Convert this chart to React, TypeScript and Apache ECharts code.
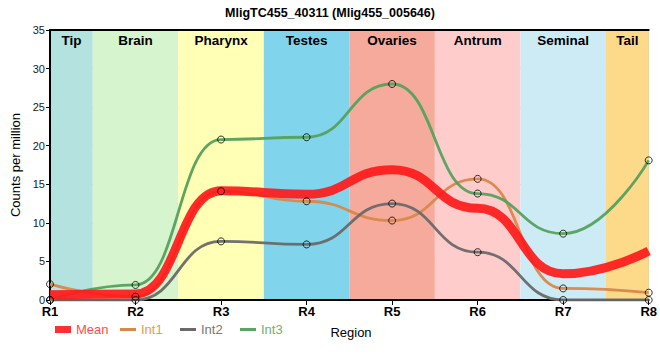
import React, { useEffect, useRef } from "react";
import * as echarts from "echarts";

const regions = ["R1", "R2", "R3", "R4", "R5", "R6", "R7", "R8"];
const meanVals = [0.67, 0.79, 14.17, 13.7, 16.9, 11.9, 3.4, 6.35];
const int1Vals = [2.05, 0.43, 14.1, 12.8, 10.3, 15.7, 1.5, 0.95];
const int2Vals = [0.0, 0.0, 7.6, 7.2, 12.5, 6.2, 0.0, 0.0];
const int3Vals = [0.0, 1.95, 20.8, 21.1, 28.0, 13.8, 8.6, 18.1];
const bandNames = ["Tip", "Brain", "Pharynx", "Testes", "Ovaries", "Antrum", "Seminal", "Tail"];
const bandStarts = [0, 0.5, 1.5, 2.5, 3.5, 4.5, 5.5, 6.5];
const bandEnds = [0.5, 1.5, 2.5, 3.5, 4.5, 5.5, 6.5, 7];
const bandColors = ["#b3e2df", "#d6f5ce", "#ffffb5", "#80d5ec", "#f5aa9c", "#ffcccc", "#cdebf5", "#fdd98a"];
const yTicks = [0, 5, 10, 15, 20, 25, 30, 35];

const ARIAL = '"Liberation Sans", Arial, sans-serif';

export default function App() {
  const ref = useRef<HTMLDivElement>(null);
  useEffect(() => {
    const chart = echarts.init(ref.current!, null, { renderer: "svg" });
    const pts = (arr: number[]) => arr.map((v, i) => [i, v]);
    const lineSeries = (name: string, arr: number[], color: string, width: number, opacity = 1) => ({
      name,
      type: "line",
      data: pts(arr),
      smooth: 0.5,
      smoothMonotone: "x",
      symbol: "none",
      z: 2,
      lineStyle: { color, width, opacity },
      itemStyle: { color },
    });
    const dotSeries = (name: string, arr: number[]) => ({
      name: name + "_pts",
      type: "scatter",
      data: pts(arr),
      symbol: "circle",
      symbolSize: 7,
      z: 4,
      itemStyle: { color: "rgba(0,0,0,0)", borderColor: "#000", borderWidth: 1 },
    });
    const legendItem = (
      name: string,
      left: number,
      textColor: string,
      iconColor: string,
      w: number,
      h: number
    ) => ({
      left,
      top: 323,
      padding: 0,
      icon: "rect",
      itemWidth: w,
      itemHeight: h,
      data: [{ name, textStyle: { color: textColor }, itemStyle: { color: iconColor } }],
      textStyle: { fontSize: 13 },
    });
    chart.setOption({
      animation: false,
      title: {
        text: "MligTC455_40311 (Mlig455_005646)",
        left: "center",
        top: 1,
        textStyle: { fontFamily: ARIAL, fontSize: 12.5, fontWeight: "bold", color: "#000" },
      },
      grid: { left: 50, right: 9, top: 30, bottom: 60, containLabel: false },
      legend: [
        legendItem("Mean", 55, "#ff4d4d", "#ff3030", 16, 7),
        legendItem("Int1", 120, "#e8975a", "#d9874a", 16, 3),
        legendItem("Int2", 180, "#777777", "#696969", 16, 3),
        legendItem("Int3", 240, "#6fb075", "#5aa563", 16, 3),
      ],
      graphic: [
        {
          type: "text",
          x: 351,
          y: 332,
          style: {
            text: "Region",
            fontSize: 13,
            fill: "#000",
            align: "center",
            verticalAlign: "middle",
          },
        },
      ],
      xAxis: [
        {
          type: "value",
          min: 0,
          max: 7,
          interval: 1,
          z: 1,
          axisLine: { lineStyle: { color: "#000", width: 2 } },
          axisTick: { show: true, length: 5, lineStyle: { color: "#000" } },
          axisLabel: {
            formatter: (v: number) => regions[v] ?? "",
            color: "#000",
            fontWeight: "bold",
            fontSize: 13,
            margin: 5,
          },
          splitLine: { show: true, lineStyle: { color: "#c8c8c8", width: 1 } },
        },
        {
          type: "value",
          position: "top",
          min: 0,
          max: 7,
          interval: 1,
          z: 1,
          axisLine: { show: true, lineStyle: { color: "#000", width: 2 } },
          axisTick: { show: false },
          axisLabel: { show: false },
          splitLine: { show: false },
        },
      ],
      yAxis: {
        type: "value",
        min: yTicks[0],
        max: yTicks[yTicks.length - 1],
        interval: 5,
        z: 1,
        name: "Counts per million",
        nameLocation: "middle",
        nameGap: 27,
        nameTextStyle: { fontFamily: ARIAL, fontSize: 13, color: "#000" },
        axisLine: { show: true, lineStyle: { color: "#000", width: 2 } },
        axisTick: { show: true, length: 4, lineStyle: { color: "#000" } },
        axisLabel: { color: "#222", fontSize: 11, margin: 5, fontFamily: ARIAL },
        splitLine: { show: true, lineStyle: { color: "#c8c8c8", width: 1 } },
      },
      series: [
        {
          name: "bands",
          type: "line",
          data: [],
          z: 0,
          silent: true,
          markArea: {
            silent: true,
            label: {
              show: true,
              position: "insideTop",
              distance: 3,
              color: "#000",
              fontWeight: "bold",
              fontFamily: ARIAL,
              fontSize: 13.5,
            },
            data: bandNames.map((n, i) => [
              { name: n, xAxis: bandStarts[i], itemStyle: { color: bandColors[i] } },
              { xAxis: bandEnds[i] },
            ]),
          },
        },
        lineSeries("Int1", int1Vals, "#d9874a", 2.8, 0.95),
        lineSeries("Int2", int2Vals, "#696969", 2.8, 0.95),
        lineSeries("Int3", int3Vals, "#55a15c", 2.8, 0.95),
        lineSeries("Mean", meanVals, "#ff1a1a", 9, 0.92),
        dotSeries("Int1", int1Vals),
        dotSeries("Int2", int2Vals),
        dotSeries("Int3", int3Vals),
      ],
    });
    return () => chart.dispose();
  }, []);
  return <div ref={ref} style={{ width: 660, height: 360, position: "absolute", left: 0, top: 0 }} />;
}
